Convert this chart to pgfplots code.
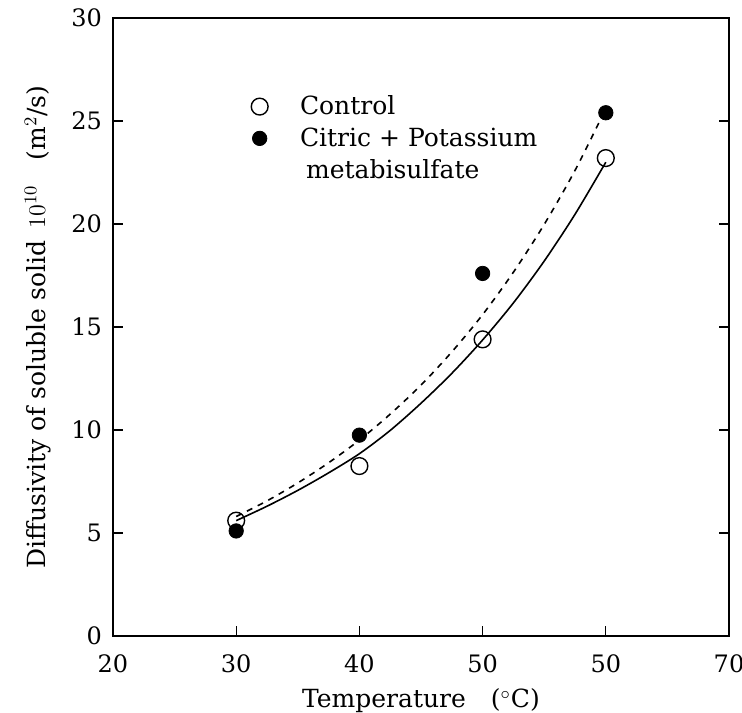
\documentclass[border=0pt]{standalone}
\usepackage{pgfplots}
\pgfplotsset{compat=1.18}
\usetikzlibrary{calc}
\usepackage{fontspec}
\setmainfont{DejaVu Serif}
\begin{document}
\begin{tikzpicture}
\begin{axis}[
  name=main,
  scale only axis,
  width=308pt, height=309pt,
  xmin=20, xmax=70, ymin=0, ymax=30,
  xtick={20,30,40,50,60,70},
  xticklabels={20,30,40,50,50,70},
  ytick={0,5,10,15,20,25,30},
  tick align=inside,
  xtick pos=bottom,
  ytick pos=both,
  major tick length=5pt,
  tick style={black, line width=0.6pt},
  axis line style={line width=0.7pt},
  /pgf/number format/assume math mode=true,
  tick label style={font=\fontsize{12}{14}\selectfont},
  xticklabel style={yshift=-6pt},
  yticklabel style={xshift=-2pt},
  label style={font=\fontsize{12.5}{15}\selectfont},
  xlabel={Temperature\quad($^{\circ}$C)},
  ylabel={Diffusivity of soluble solid\enspace $10^{10}$\quad(m$^{2}$/s)},
  xlabel style={yshift=-1pt},
  ylabel style={yshift=3.5pt},
  legend style={draw=none, fill=none, at={(0.2,0.888)}, anchor=north west,
    font=\fontsize{12.5}{14}\selectfont, row sep=1pt},
  legend cell align=left,
]
% fitted curves
\addplot[black, line width=0.8pt, smooth, forget plot] coordinates {
  (30,5.6) (32.5,6.3) (35,7.07) (37.5,7.92) (40,8.85) (42.5,9.98) (45,11.3) (47.5,12.75) (50,14.37)
  (52.5,16.17) (55,18.2) (57.5,20.47) (60,23.0)};
\addplot[black, line width=0.8pt, dashed, smooth, forget plot] coordinates {
  (30,5.8) (32.5,6.56) (35,7.43) (37.5,8.41) (40,9.51) (42.5,10.77) (45,12.18) (47.5,13.79) (50,15.6)
  (52.5,17.66) (55,19.98) (57.5,22.6) (60,25.6)};
% data
\addplot[only marks, mark=o, mark size=4.2pt, black, line width=0.7pt] coordinates {
  (30,5.6) (40,8.25) (50,14.4) (60,23.2)};
\addlegendentry{\hspace{14pt}Control}
\addplot[only marks, mark=*, mark size=3.6pt, black] coordinates {
  (30,5.1) (40,9.75) (50,17.6) (60,25.4)};
\addlegendentry{\hspace{14pt}Citric + Potassium}
\addlegendimage{empty legend}
\addlegendentry{\hspace{17pt}metabisulfate}
\end{axis}
\pgfresetboundingbox
\path[use as bounding box] ($(main.south west)+(-56.5pt,-38pt)$) rectangle ($(main.north east)+(6.5pt,9pt)$);
\end{tikzpicture}
\end{document}
